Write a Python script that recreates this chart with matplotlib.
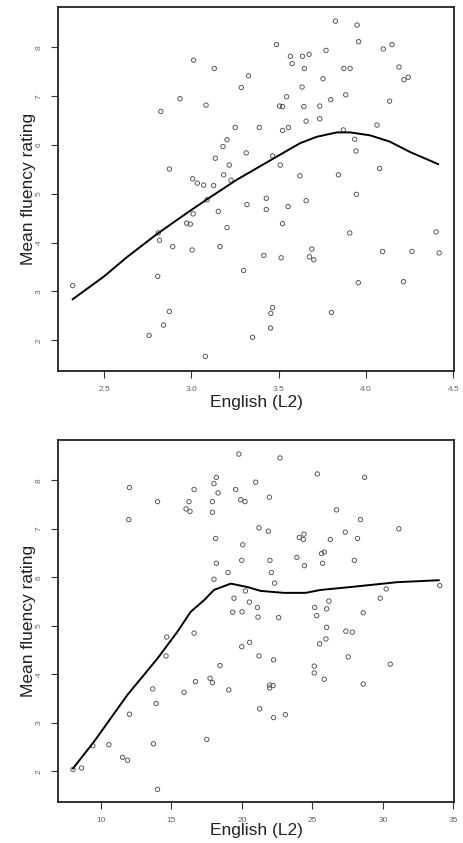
import matplotlib
matplotlib.use("Agg")
import matplotlib.pyplot as plt

# donnees du graphique du haut (score English L2 sur 4.5)
haut_x = [3.013, 3.131, 3.327, 3.286, 2.935, 3.084, 2.825, 3.251, 3.389, 3.204,
          3.181, 3.314, 3.137, 3.217, 2.874, 3.185, 3.007, 3.034, 3.070, 3.127,
          3.227, 3.825, 3.949, 3.958, 3.487, 4.099, 4.149, 3.567, 3.636, 3.674,
          3.771, 3.577, 3.647, 3.873, 3.909, 4.189, 4.217, 4.242, 3.754, 3.634,
          3.545, 3.884, 3.798, 3.505, 3.522, 3.644, 3.735, 4.135, 3.657, 3.735,
          3.522, 3.556, 4.063, 3.870, 3.935, 3.943, 3.465, 3.509, 3.621, 3.842,
          4.078, 3.945, 3.429, 3.090, 3.318, 3.154, 3.010, 2.973, 2.994, 3.204,
          2.810, 2.817, 2.893, 3.004, 3.164, 2.807, 3.299, 2.320, 2.874, 2.840,
          2.758, 3.350, 3.080, 3.429, 3.554, 3.657, 3.522, 3.907, 4.402, 3.415,
          3.514, 3.690, 3.676, 3.701, 4.095, 4.263, 4.419, 3.956, 4.215, 3.465,
          3.455, 3.802, 3.453]
haut_y = [7.74, 7.57, 7.42, 7.18, 6.95, 6.82, 6.69, 6.36, 6.36, 6.11,
          5.97, 5.84, 5.73, 5.59, 5.51, 5.39, 5.31, 5.22, 5.18, 5.17,
          5.28, 8.54, 8.46, 8.12, 8.06, 7.97, 8.06, 7.82, 7.82, 7.86,
          7.94, 7.67, 7.57, 7.57, 7.57, 7.60, 7.34, 7.39, 7.36, 7.19,
          6.99, 7.03, 6.93, 6.80, 6.79, 6.79, 6.80, 6.90, 6.49, 6.54,
          6.30, 6.36, 6.41, 6.31, 6.12, 5.88, 5.78, 5.59, 5.37, 5.39,
          5.52, 4.99, 4.91, 4.88, 4.78, 4.64, 4.59, 4.40, 4.38, 4.31,
          4.20, 4.05, 3.92, 3.85, 3.92, 3.31, 3.43, 3.12, 2.59, 2.31,
          2.10, 2.06, 1.67, 4.68, 4.74, 4.86, 4.39, 4.20, 4.22, 3.74,
          3.69, 3.87, 3.71, 3.65, 3.82, 3.82, 3.79, 3.18, 3.20, 2.67,
          2.55, 2.57, 2.25]
haut_lissage_x = [2.32, 2.50, 2.633, 2.804, 2.975, 3.09, 3.26, 3.463, 3.623,
                  3.718, 3.833, 3.909, 4.023, 4.137, 4.251, 4.413]
haut_lissage_y = [2.84, 3.31, 3.71, 4.18, 4.61, 4.89, 5.29, 5.71, 6.04,
                  6.17, 6.26, 6.26, 6.20, 6.07, 5.86, 5.61]

# donnees du graphique du bas (score English L2 brut)
bas_x = [19.79, 18.19, 18.02, 20.98, 12.03, 16.61, 18.31, 19.56, 14.02, 16.25,
         17.91, 19.92, 20.22, 16.04, 16.32, 17.91, 11.98, 21.21, 18.14, 20.06,
         18.19, 19.99, 19.02, 18.02, 20.25, 19.44, 20.53, 19.35, 20.01, 21.10,
         21.14, 22.70, 25.35, 28.70, 21.95, 26.71, 28.41, 21.88, 31.13, 24.07,
         24.40, 24.36, 26.27, 27.33, 28.20, 25.65, 25.84, 23.90, 24.43, 25.72,
         27.97, 21.99, 22.09, 22.32, 30.23, 29.81, 34.03, 26.17, 25.16, 26.01,
         25.30, 28.60, 22.61, 14.67, 16.61, 14.62, 19.99, 20.55, 21.21, 18.45,
         13.68, 16.71, 17.74, 17.91, 15.90, 19.07, 13.92, 12.03, 21.26, 9.43,
         10.57, 13.73, 17.51, 11.54, 11.89, 8.02, 8.63, 14.02, 26.01, 25.96,
         25.51, 27.37, 27.83, 22.25, 27.54, 30.52, 25.13, 25.13, 25.84, 28.60,
         21.97, 21.97, 22.20, 22.25, 23.08]
bas_y = [8.54, 8.06, 7.93, 7.96, 7.85, 7.81, 7.74, 7.81, 7.56, 7.56,
         7.56, 7.60, 7.56, 7.41, 7.36, 7.34, 7.19, 7.02, 6.80, 6.67,
         6.29, 6.35, 6.10, 5.96, 5.72, 5.57, 5.49, 5.28, 5.29, 5.38,
         5.18, 8.46, 8.13, 8.06, 7.65, 7.39, 7.19, 6.95, 7.00, 6.82,
         6.89, 6.78, 6.78, 6.93, 6.80, 6.49, 6.52, 6.41, 6.24, 6.29,
         6.35, 6.35, 6.10, 5.88, 5.76, 5.57, 5.83, 5.51, 5.38, 5.35,
         5.21, 5.27, 5.17, 4.77, 4.85, 4.38, 4.57, 4.66, 4.38, 4.18,
         3.70, 3.85, 3.92, 3.83, 3.63, 3.68, 3.40, 3.18, 3.29, 2.53,
         2.55, 2.57, 2.66, 2.29, 2.23, 2.04, 2.07, 1.63, 4.97, 4.73,
         4.63, 4.89, 4.87, 4.30, 4.36, 4.21, 4.17, 4.03, 3.90, 3.80,
         3.78, 3.72, 3.77, 3.11, 3.17]
bas_lissage_x = [8.02, 9.53, 11.89, 14.02, 15.43, 16.37, 17.32, 18.02, 19.21,
                 20.39, 21.33, 22.98, 24.52, 25.58, 27.71, 31.01, 33.96]
bas_lissage_y = [2.06, 2.62, 3.58, 4.33, 4.88, 5.29, 5.53, 5.74, 5.87,
                 5.80, 5.72, 5.68, 5.68, 5.74, 5.80, 5.90, 5.94]

haut_ticks_x = [2.5, 3.0, 3.5, 4.0, 4.5]
bas_ticks_x = [10, 15, 20, 25, 30, 35]
ticks_y = [2, 3, 4, 5, 6, 7, 8]

plt.rcParams['font.family'] = ['Liberation Sans', 'DejaVu Sans']

W, H = 463, 843
fig = plt.figure(figsize=(W / 100, H / 100), dpi=100)

# positions des cadres en pixels (gauche, haut, droite, bas)
ax_haut = fig.add_axes([58 / W, 1 - 371 / H, 396 / W, 364 / H])
ax_bas = fig.add_axes([58 / W, 1 - 802 / H, 396 / W, 362 / H])


def dessiner(ax, x, y, lx, ly, ticks_x, xlim, pad_label):
    ax.scatter(x, y, s=10, facecolors='none', edgecolors='#505050', linewidths=0.65)
    ax.plot(lx, ly, color='black', linewidth=1.4)
    ax.set_xlim(*xlim)
    ax.set_ylim(1.37, 8.83)
    ax.set_xticks(ticks_x)
    ax.set_xticklabels([f"{t:g}" if isinstance(t, int) else f"{t:.1f}" for t in ticks_x])
    ax.set_yticks(ticks_y)
    ax.tick_params(axis='both', labelsize=6, colors='#333333', labelcolor='#666666',
                   length=5, width=0.8, pad=6)
    for lab in ax.get_yticklabels():
        lab.set_rotation(90)
        lab.set_va('center')
    for sp in ax.spines.values():
        sp.set_linewidth(1.3)
        sp.set_color('#222222')
    ax.set_xlabel("English (L2)", fontsize=12.5, color='#222222', labelpad=pad_label)
    ax.set_ylabel("Mean fluency rating", fontsize=12.5, color='#222222', labelpad=0)


dessiner(ax_haut, haut_x, haut_y, haut_lissage_x, haut_lissage_y, haut_ticks_x,
         (2.236, 4.504), 1)
dessiner(ax_bas, bas_x, bas_y, bas_lissage_x, bas_lissage_y, bas_ticks_x,
         (6.96, 35.04), -1)

fig.savefig("out.png", dpi=100)
